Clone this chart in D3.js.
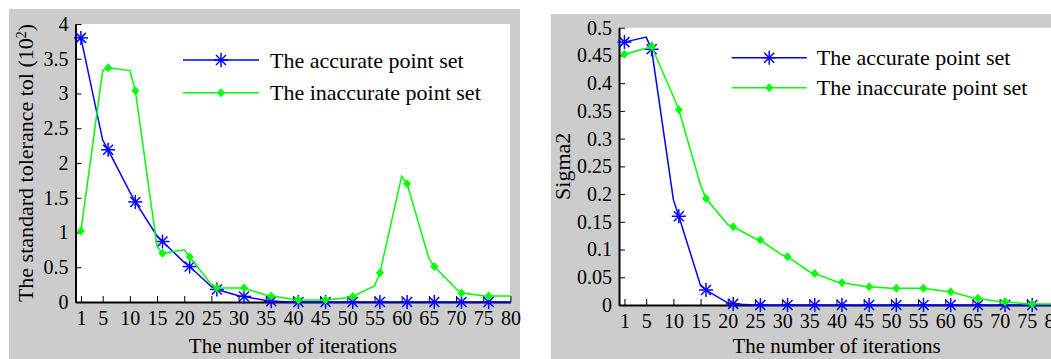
<!DOCTYPE html>
<html>
<head>
<meta charset="utf-8">
<script src="https://cdn.jsdelivr.net/npm/d3@7"></script>
<style>
  html, body { margin: 0; padding: 0; background: #fff; }
  svg { display: block; }
  text { font-family: "Liberation Serif", "Times New Roman", serif; fill: #000; }
</style>
</head>
<body>
<div id="chart"></div>
<script>
// iterations (line vertices) and values
const tolX = [1, 5, 6, 10, 11, 15, 16, 20, 21, 25, 26, 30, 31, 35, 36, 40, 41, 45, 46, 50, 51, 55, 56, 60, 61, 65, 66, 70, 71, 75, 76, 80];
const tolAccurate = [3.8, 2.33, 2.19, 1.58, 1.44, 0.95, 0.87, 0.57, 0.51, 0.22, 0.18, 0.09, 0.08, 0.02, 0.01, 0, 0, 0, 0, 0, 0, 0, 0, 0, 0, 0, 0, 0, 0, 0, 0, 0];
const tolInaccurate = [1.02, 3.33, 3.37, 3.33, 3.04, 0.8, 0.7, 0.75, 0.65, 0.25, 0.2, 0.2, 0.2, 0.1, 0.086, 0.04, 0.03, 0.03, 0.03, 0.06, 0.08, 0.23, 0.42, 1.81, 1.7, 0.63, 0.51, 0.19, 0.13, 0.09, 0.086, 0.086];

const sigX = [1, 5, 6, 10, 11, 15, 16, 20, 21, 25, 26, 30, 31, 35, 36, 40, 41, 45, 46, 50, 51, 55, 56, 60, 61, 65, 66, 70, 71, 75, 76, 80];
const sigAccurate = [0.474, 0.483, 0.461, 0.19, 0.16, 0.035, 0.027, 0.004, 0.002, 0, 0, 0, 0, 0, 0, 0, 0, 0, 0, 0, 0, 0, 0, 0, 0, 0, 0, 0, 0, 0, 0, 0];
const sigInaccurate = [0.452, 0.463, 0.466, 0.376, 0.352, 0.216, 0.192, 0.145, 0.141, 0.12, 0.117, 0.09, 0.087, 0.06, 0.057, 0.042, 0.04, 0.034, 0.033, 0.03, 0.03, 0.03, 0.03, 0.025, 0.024, 0.013, 0.012, 0.006, 0.006, 0.002, 0.002, 0.002];

const xTicks = [1, 5, 10, 15, 20, 25, 30, 35, 40, 45, 50, 55, 60, 65, 70, 75, 80];
const tolTicks = [0, 0.5, 1, 1.5, 2, 2.5, 3, 3.5, 4];
const sigTicks = [0, 0.05, 0.1, 0.15, 0.2, 0.25, 0.3, 0.35, 0.4, 0.45, 0.5];

const seriesNames = ["The accurate point set", "The inaccurate point set"];
const seriesColors = ["#0000ff", "#00ff00"];
const xLabel = "The number of iterations";

const width = 1051, height = 359;

const svg = d3.select("#chart").append("svg")
  .attr("width", width)
  .attr("height", height);

svg.append("rect").attr("width", width).attr("height", height).attr("fill", "#fff");

// markers every 5 iterations (1, 6, 11, ...)
const isMarked = x => (x - 1) % 5 === 0;

function star(g, x, y, color) {
  const s = g.append("g").attr("stroke", color).attr("stroke-width", 1.5);
  s.append("line").attr("x1", x - 7).attr("x2", x + 7).attr("y1", y).attr("y2", y);
  s.append("line").attr("x1", x).attr("x2", x).attr("y1", y - 7).attr("y2", y + 7);
  s.append("line").attr("x1", x - 5).attr("x2", x + 5).attr("y1", y - 5).attr("y2", y + 5);
  s.append("line").attr("x1", x - 5).attr("x2", x + 5).attr("y1", y + 5).attr("y2", y - 5);
}

function dot(g, x, y, color) {
  g.append("path")
    .attr("d", `M${x},${y - 4.5}L${x + 4},${y}L${x},${y + 4.5}L${x - 4},${y}Z`)
    .attr("fill", color);
}

const markerFns = [star, dot];

function drawPanel(cfg) {
  const g = svg.append("g");

  g.append("rect")
    .attr("x", cfg.bg[0]).attr("y", cfg.bg[1])
    .attr("width", cfg.bg[2]).attr("height", cfg.bg[3])
    .attr("fill", "#cccccc");

  g.append("rect")
    .attr("x", cfg.left).attr("y", cfg.top)
    .attr("width", cfg.whiteRight - cfg.left).attr("height", cfg.bottom - cfg.top)
    .attr("fill", "#fff");

  const x = d3.scaleLinear().domain([0, 80]).range([cfg.left, cfg.right]);
  const y = d3.scaleLinear().domain(cfg.yDomain).range([cfg.bottom, cfg.top]);

  // axes
  const xAxis = g.append("g")
    .attr("transform", `translate(0,${cfg.bottom})`)
    .call(d3.axisBottom(x).tickValues(xTicks).tickSizeInner(-6).tickSizeOuter(0).tickPadding(9));
  const yAxis = g.append("g")
    .attr("transform", `translate(${cfg.left},0)`)
    .call(d3.axisLeft(y).tickValues(cfg.yTicks).tickFormat(d3.format("~g")).tickSizeInner(-6).tickSizeOuter(0).tickPadding(7));

  [xAxis, yAxis].forEach(a => {
    a.select(".domain").attr("stroke", "#000").attr("stroke-width", 2);
    a.selectAll(".tick line").attr("stroke", "#000").attr("stroke-width", 1);
    a.selectAll(".tick text")
      .style("font-family", '"Liberation Serif", serif')
      .style("font-size", "20px")
      .attr("fill", "#000");
  });
  xAxis.selectAll(".tick text").attr("dy", "0.71em");

  // lines and markers
  const line = d3.line()
    .x(d => x(d[0]))
    .y(d => y(d[1]));

  cfg.series.forEach((vals, i) => {
    const pts = cfg.xs.map((v, j) => [v, vals[j]]);
    g.append("path")
      .datum(pts)
      .attr("d", line)
      .attr("fill", "none")
      .attr("stroke", seriesColors[i])
      .attr("stroke-width", 1.5);
    pts.filter(p => isMarked(p[0])).forEach(p => markerFns[i](g, x(p[0]), y(p[1]), seriesColors[i]));
  });

  // legend
  seriesNames.forEach((name, i) => {
    const ly = cfg.legend.y + i * cfg.legend.dy;
    g.append("line")
      .attr("x1", cfg.legend.x1).attr("x2", cfg.legend.x2)
      .attr("y1", ly).attr("y2", ly)
      .attr("stroke", seriesColors[i]).attr("stroke-width", 1.5);
    markerFns[i](g, (cfg.legend.x1 + cfg.legend.x2) / 2, ly, seriesColors[i]);
    g.append("text")
      .attr("x", cfg.legend.textX).attr("y", ly)
      .attr("dy", "0.35em")
      .style("font-size", "22px")
      .text(name);
  });

  // axis titles
  g.append("text")
    .attr("x", (cfg.left + cfg.right) / 2)
    .attr("y", 353)
    .attr("text-anchor", "middle")
    .style("font-size", "21px")
    .text(xLabel);

  const yl = g.append("text")
    .attr("transform", `translate(${cfg.yLabelX},${(cfg.top + cfg.bottom) / 2}) rotate(-90)`)
    .attr("text-anchor", "middle")
    .attr("dy", "0.35em")
    .style("font-size", "22px");
  cfg.yLabel(yl);
}

drawPanel({
  bg: [9, 9, 511, 350],
  left: 75.5, right: 510.4, whiteRight: 510, top: 24, bottom: 302,
  yDomain: [0, 4], yTicks: tolTicks,
  xs: tolX, series: [tolAccurate, tolInaccurate],
  legend: { x1: 183, x2: 259, y: 60, dy: 32.7, textX: 270 },
  yLabelX: 25,
  yLabel: t => {
    t.append("tspan").text("The standard tolerance tol (10");
    t.append("tspan").attr("baseline-shift", "super").style("font-size", "14px").text("2");
    t.append("tspan").text(")");
  }
});

drawPanel({
  bg: [551, 14, 520, 345],
  left: 619, right: 1054, whiteRight: 1051, top: 27.7, bottom: 305,
  yDomain: [0, 0.5], yTicks: sigTicks,
  xs: sigX, series: [sigAccurate, sigInaccurate],
  legend: { x1: 731.7, x2: 806.7, y: 57.7, dy: 30, textX: 816.7 },
  yLabelX: 562,
  yLabel: t => t.text("Sigma2")
});
</script>
</body>
</html>
